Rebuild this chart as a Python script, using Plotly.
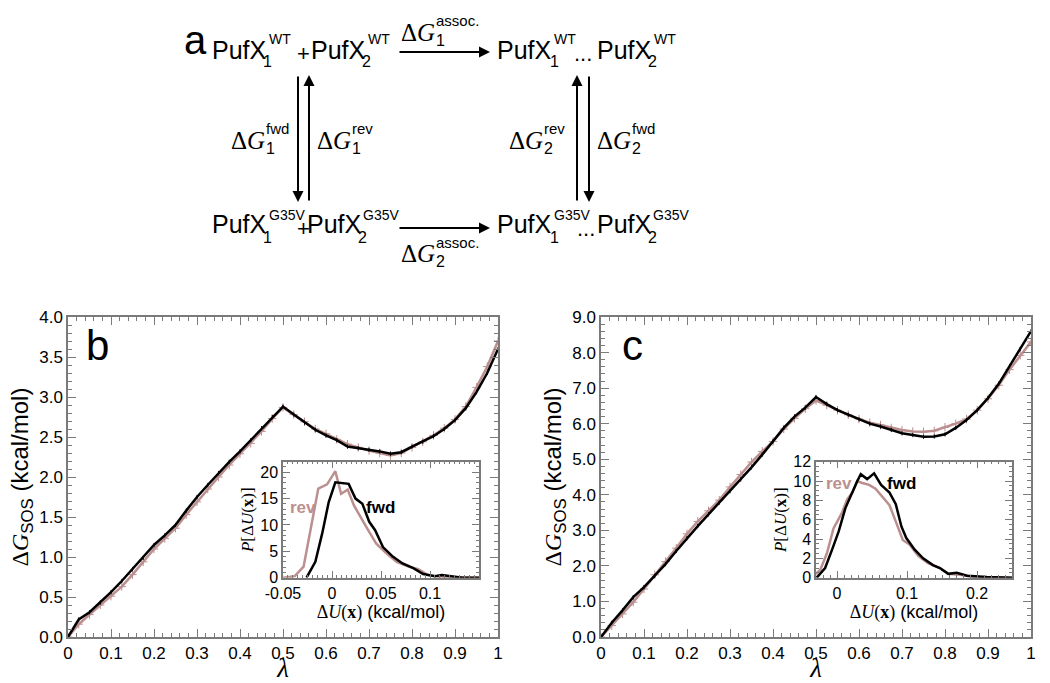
import plotly.graph_objects as go

W, H = 1050, 683
SANS = "Liberation Sans"
SERIF = "Liberation Serif"
REV_COLOR = "#bc8f8f"
FRAME = "#7a7a7a"

# ---------------- data ----------------
lam = [0.0, 0.025, 0.05, 0.075, 0.1, 0.125, 0.15, 0.175, 0.2, 0.225, 0.25, 0.275, 0.3,
       0.325, 0.35, 0.375, 0.4, 0.425, 0.45, 0.475, 0.5, 0.525, 0.55, 0.575, 0.6, 0.625,
       0.65, 0.675, 0.7, 0.725, 0.75, 0.775, 0.8, 0.825, 0.85, 0.875, 0.9, 0.925, 0.95,
       0.975, 1.0]

b_fwd = [0.00, 0.22, 0.31, 0.43, 0.56, 0.70, 0.85, 0.99, 1.15, 1.27, 1.40, 1.58, 1.75,
         1.90, 2.05, 2.19, 2.32, 2.46, 2.61, 2.75, 2.88, 2.78, 2.68, 2.59, 2.52, 2.46,
         2.38, 2.36, 2.34, 2.32, 2.29, 2.31, 2.38, 2.44, 2.51, 2.60, 2.71, 2.86, 3.06,
         3.30, 3.60]
b_rev = [0.00, 0.16, 0.28, 0.40, 0.51, 0.63, 0.78, 0.94, 1.10, 1.23, 1.36, 1.53, 1.69,
         1.85, 2.00, 2.15, 2.29, 2.42, 2.57, 2.73, 2.87, 2.78, 2.69, 2.60, 2.54, 2.47,
         2.41, 2.37, 2.33, 2.30, 2.27, 2.30, 2.37, 2.44, 2.52, 2.61, 2.72, 2.88, 3.12,
         3.38, 3.70]

c_fwd = [0.00, 0.40, 0.75, 1.12, 1.40, 1.72, 2.05, 2.42, 2.78, 3.12, 3.45, 3.78, 4.10,
         4.43, 4.77, 5.13, 5.50, 5.88, 6.20, 6.45, 6.75, 6.55, 6.38, 6.25, 6.12, 6.00,
         5.92, 5.83, 5.73, 5.68, 5.63, 5.64, 5.70, 5.88, 6.10, 6.38, 6.72, 7.12, 7.62,
         8.10, 8.60]
c_rev = [0.00, 0.32, 0.65, 0.98, 1.35, 1.75, 2.12, 2.50, 2.90, 3.25, 3.55, 3.85, 4.22,
         4.57, 4.92, 5.22, 5.50, 5.85, 6.15, 6.42, 6.65, 6.52, 6.38, 6.25, 6.13, 6.03,
         5.96, 5.88, 5.82, 5.78, 5.77, 5.80, 5.90, 6.00, 6.13, 6.38, 6.70, 7.08, 7.52,
         7.92, 8.30]

# inset b: distributions of dU
ib_fwd_x = [-0.026, -0.017, -0.010, -0.0034, 0.0034, 0.010, 0.017, 0.024, 0.031, 0.038,
            0.044, 0.052, 0.062, 0.072, 0.083, 0.093, 0.105, 0.112, 0.122, 0.133, 0.15]
ib_fwd_y = [0.0, 3.0, 8.4, 14.3, 18.1, 18.0, 17.8, 15.0, 14.0, 10.6,
            9.0, 5.8, 4.0, 2.7, 1.8, 0.7, 0.3, 0.5, 0.2, 0.0, 0.0]
ib_rev_x = [-0.05, -0.038, -0.029, -0.014, -0.005, 0.0034, 0.0093, 0.016, 0.0224, 0.029,
            0.036, 0.045, 0.055, 0.066, 0.078, 0.088, 0.098, 0.109, 0.15]
ib_rev_y = [0.0, 0.3, 2.1, 16.9, 17.7, 20.2, 15.9, 16.7, 13.7, 11.5,
            9.3, 6.5, 4.7, 3.0, 2.1, 1.6, 0.5, 0.2, 0.0]

# inset c
ic_fwd_x = [-0.029, -0.017, -0.007, 0.0024, 0.012, 0.022, 0.029, 0.034, 0.043, 0.053,
            0.063, 0.075, 0.084, 0.092, 0.099, 0.111, 0.123, 0.137, 0.147, 0.159,
            0.171, 0.186, 0.214, 0.25]
ic_fwd_y = [0.0, 1.0, 2.9, 4.8, 7.2, 8.9, 10.0, 10.7, 10.2, 10.8,
            9.6, 8.8, 7.6, 5.3, 4.1, 2.9, 2.0, 1.3, 1.0, 0.4,
            0.5, 0.2, 0.07, 0.0]
ic_rev_x = [-0.032, -0.024, -0.0145, -0.005, 0.007, 0.0145, 0.022, 0.029, 0.036, 0.046,
            0.055, 0.065, 0.075, 0.084, 0.094, 0.104, 0.116, 0.130, 0.147, 0.159,
            0.176, 0.195, 0.25]
ic_rev_y = [0.3, 0.8, 2.5, 5.1, 6.7, 8.1, 8.8, 10.0, 9.8, 9.6,
            9.2, 8.3, 7.5, 5.8, 3.9, 3.4, 2.25, 1.5, 1.0, 0.4,
            0.3, 0.07, 0.0]

lam_ticks = [0, 0.1, 0.2, 0.3, 0.4, 0.5, 0.6, 0.7, 0.8, 0.9, 1.0]
lam_ticktext = ["0", "0.1", "0.2", "0.3", "0.4", "0.5", "0.6", "0.7", "0.8", "0.9", "1"]
b_yticks = [0.0, 0.5, 1.0, 1.5, 2.0, 2.5, 3.0, 3.5, 4.0]
b_yticktext = ["0.0", "0.5", "1.0", "1.5", "2.0", "2.5", "3.0", "3.5", "4.0"]
c_yticks = [0, 1, 2, 3, 4, 5, 6, 7, 8, 9]
c_yticktext = ["0.0", "1.0", "2.0", "3.0", "4.0", "5.0", "6.0", "7.0", "8.0", "9.0"]
ib_xticks = [-0.05, 0.0, 0.05, 0.1]
ib_xticktext = ["-0.05", "0", "0.05", "0.1"]
ib_yticks = [0, 5, 10, 15, 20]
ic_xticks = [0.0, 0.1, 0.2]
ic_xticktext = ["0", "0.1", "0.2"]
ic_yticks = [0, 2, 4, 6, 8, 10, 12]

# ---------------- figure ----------------
fig = go.Figure()


def line(x, y, color, xa, ya, width=2.5, marker=None, msize=5):
    kw = dict(x=x, y=y, xaxis=xa, yaxis=ya, mode="lines", hoverinfo="skip",
              line=dict(color=color, width=width), showlegend=False)
    if marker:
        kw["mode"] = "lines+markers"
        kw["marker"] = dict(symbol=marker, size=msize, color=color,
                            line=dict(color=color, width=1))
    fig.add_trace(go.Scatter(**kw))


line(lam, b_rev, REV_COLOR, "x", "y", marker="cross-thin", msize=6)
line(lam, b_fwd, "black", "x", "y", marker="line-ns", msize=3)
line(lam, c_rev, REV_COLOR, "x2", "y2", marker="cross-thin", msize=6)
line(lam, c_fwd, "black", "x2", "y2", marker="line-ns", msize=3)
line(ib_rev_x, ib_rev_y, REV_COLOR, "x3", "y3")
line(ib_fwd_x, ib_fwd_y, "black", "x3", "y3")
line(ic_rev_x, ic_rev_y, REV_COLOR, "x4", "y4")
line(ic_fwd_x, ic_fwd_y, "black", "x4", "y4")


def dom_x(a, b):
    return [a / W, b / W]


def dom_y(top, bottom):
    return [1 - bottom / H, 1 - top / H]


def axis(domain, rng, tickvals, ticktext, minor_dtick, anchor, fontsize=17,
         title=None, title_size=24, standoff=None, ticklen=8, title_family=SANS):
    d = dict(domain=domain, range=rng, anchor=anchor, showline=True, linecolor=FRAME,
             linewidth=1.5, mirror="ticks", ticks="inside", ticklen=ticklen,
             tickwidth=1.2, tickcolor=FRAME, showgrid=False, zeroline=False,
             automargin=False,
             tickmode="array", tickvals=tickvals, ticktext=ticktext,
             tickfont=dict(family=SANS, size=fontsize, color="black"),
             minor=dict(ticks="inside", ticklen=ticklen // 2, tickwidth=1,
                        tickcolor=FRAME, dtick=minor_dtick, showgrid=False),
             fixedrange=True)
    if title:
        d["title"] = dict(text=title, font=dict(family=title_family, size=title_size,
                                                color="black"))
        if standoff is not None:
            d["title"]["standoff"] = standoff
    return d


ytitle = ('<span style="font-family:Liberation Serif">Δ<i>G</i></span>'
          '<sub>SOS</sub> (kcal/mol)')
lam_title = '<i>λ</i>'
in_xtitle = ('<span style="font-family:Liberation Serif">Δ<i>U</i>(<b>x</b>)</span>'
             ' (kcal/mol)')
in_ytitle = ('<span style="font-family:Liberation Serif"><i>P</i>[Δ<i>U</i>(<b>x</b>)]</span>')

fig.update_layout(
    width=W, height=H, margin=dict(l=0, r=0, t=0, b=0, autoexpand=False),
    paper_bgcolor="white", plot_bgcolor="rgba(0,0,0,0)", showlegend=False,
    xaxis=axis(dom_x(68, 498), [0, 1], lam_ticks, lam_ticktext, 0.02, "y",
               title=lam_title, title_size=27, standoff=3, title_family=SERIF),
    yaxis=axis(dom_y(317, 637), [0, 4], b_yticks, b_yticktext, 0.1, "x",
               title=ytitle, standoff=4),
    xaxis2=axis(dom_x(601, 1031), [0, 1], lam_ticks, lam_ticktext, 0.02, "y2",
                title=lam_title, title_size=27, standoff=3, title_family=SERIF),
    yaxis2=axis(dom_y(317, 637), [0, 9], c_yticks, c_yticktext, 0.2, "x2",
                title=ytitle, standoff=4),
    xaxis3=axis(dom_x(283, 479), [-0.05, 0.15], ib_xticks, ib_xticktext, 0.005, "y3",
                fontsize=16, title=in_xtitle, title_size=18, standoff=2, ticklen=7),
    yaxis3=axis(dom_y(461.7, 577.7), [0, 22], ib_yticks, [str(v) for v in ib_yticks], 1, "x3",
                fontsize=16, title=in_ytitle, title_size=17, standoff=2, ticklen=7),
    xaxis4=axis(dom_x(816, 1012), [-0.03, 0.25], ic_xticks, ic_xticktext, 0.01, "y4",
                fontsize=16, title=in_xtitle, title_size=18, standoff=2, ticklen=7),
    yaxis4=axis(dom_y(461.7, 577.7), [0, 12], ic_yticks, [str(v) for v in ic_yticks], 0.5, "x4",
                fontsize=16, title=in_ytitle, title_size=17, standoff=2, ticklen=7),
)

ann = []


def txt(x, y, s, size, family=SANS, xanchor="left", color="black"):
    ann.append(dict(x=x / W, y=1 - y / H, xref="paper", yref="paper", text=s,
                    showarrow=False, xanchor=xanchor, yanchor="middle", borderpad=0,
                    font=dict(family=family, size=size, color=color)))


def arrow(x0, y0, x1, y1):
    ann.append(dict(x=x1 / W, y=1 - y1 / H, xref="paper", yref="paper",
                    ax=x0 - x1, ay=y0 - y1, axref="pixel", ayref="pixel",
                    text="", showarrow=True, arrowhead=2, arrowsize=1.1,
                    arrowwidth=2, arrowcolor="black", standoff=0, startstandoff=0))


def pufx(x, y, sup, sub, sup_dx, sub_dx, sup_dy=-11, sub_dy=11):
    txt(x, y, "PufX", 25)
    txt(x + sup_dx, y + sup_dy, sup, 14)
    txt(x + sub_dx, y + sub_dy, sub, 16)


def dg(x, y, sup, sub):
    txt(x, y, "Δ<i>G</i>", 25, family=SERIF)
    txt(x + 35, y - 12, sup, 15)
    txt(x + 35, y + 8, sub, 16)


# panel letters
txt(195, 40, "a", 40, xanchor="center")
txt(97, 345, "b", 42, xanchor="center")
txt(632, 345, "c", 42, xanchor="center")

# top row
pufx(211, 50, "WT", "1", 57, 51)
txt(303, 53, "+", 22, xanchor="center")
pufx(310, 50, "WT", "2", 57, 51)
pufx(496, 50, "WT", "1", 57, 53)
txt(583, 53, "...", 22, xanchor="center")
pufx(596, 50, "WT", "2", 57, 51)
arrow(398, 52, 490, 52)
dg(400, 32, "assoc.", "1")

# bottom row
pufx(211, 224, "G35V", "1", 57, 51, sup_dy=-9, sub_dy=14)
txt(303, 228, "+", 22, xanchor="center")
pufx(306, 224, "G35V", "2", 56, 51, sup_dy=-9, sub_dy=14)
pufx(496, 224, "G35V", "1", 57, 53, sup_dy=-9, sub_dy=14)
txt(586, 228, "...", 22, xanchor="center")
pufx(596, 224, "G35V", "2", 56, 51, sup_dy=-9, sub_dy=14)
arrow(398, 228, 490, 228)
dg(400, 254, "assoc.", "2")

# vertical arrows
arrow(298, 75, 298, 202)
arrow(309, 202, 309, 75)
arrow(577, 202, 577, 75)
arrow(589, 75, 589, 202)
dg(230, 140, "fwd", "1")
dg(316, 140, "rev", "1")
dg(508, 140, "rev", "2")
dg(596, 140, "fwd", "2")

# inset labels
txt(303, 507, "<b>rev</b>", 17, color=REV_COLOR, xanchor="center")
txt(380, 507, "<b>fwd</b>", 17, color="black", xanchor="center")
txt(839, 483, "<b>rev</b>", 17, color=REV_COLOR, xanchor="center")
txt(901, 483, "<b>fwd</b>", 17, color="black", xanchor="center")

fig.update_layout(annotations=ann)
fig.write_html("out.html", config={"displayModeBar": False},
               post_script="document.body.style.margin='0';")
